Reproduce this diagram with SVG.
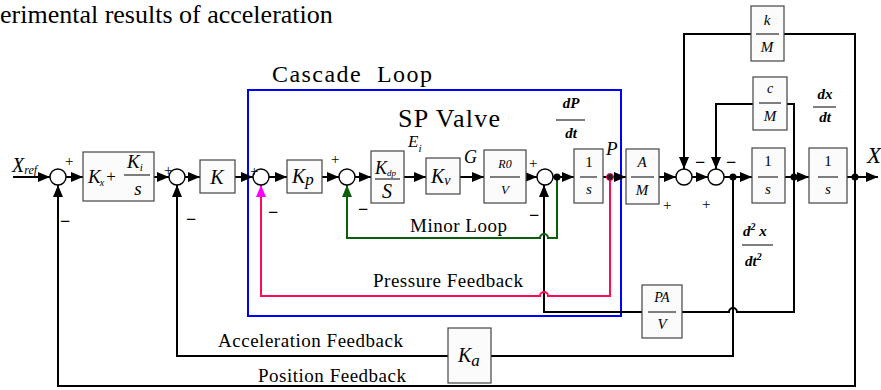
<svg xmlns="http://www.w3.org/2000/svg" width="881" height="390" viewBox="0 0 881 390" font-family="'Liberation Serif', 'DejaVu Serif', serif">
<defs>
<style>
.t{fill:#000}
.i{font-style:italic}
.bi{font-style:italic;font-weight:bold}
.box{fill:#fbfbfb;stroke:#444;stroke-width:1.2}
.sum{fill:#fff;stroke:#000;stroke-width:1.4}
.w{fill:none;stroke:#000;stroke-width:2}
.fl{stroke:#000;stroke-width:1}
.red{fill:none;stroke:#ff0a55;stroke-width:2}
.grn{fill:none;stroke:#0b5e0b;stroke-width:2}
.sg{font-size:18px;font-weight:bold;fill:#000}
.dot{fill:#000}
</style>
<marker id="ah" markerUnits="userSpaceOnUse" markerWidth="12" markerHeight="10" refX="12" refY="5" orient="auto"><path d="M0,0 L12,5 L0,10 z" fill="#000"/></marker>
<marker id="ahm" markerUnits="userSpaceOnUse" markerWidth="12" markerHeight="10" refX="12" refY="5" orient="auto"><path d="M0,0 L12,5 L0,10 z" fill="#ff00ff"/></marker>
<marker id="ahg" markerUnits="userSpaceOnUse" markerWidth="12" markerHeight="10" refX="12" refY="5" orient="auto"><path d="M0,0 L12,5 L0,10 z" fill="#0b5e0b"/></marker>
</defs>
<rect width="881" height="390" fill="#fff"/>

<text class="t" x="0" y="23" font-size="26" font-family="'Liberation Serif', serif">erimental results of acceleration</text>

<g id="cascade">
<rect x="248" y="90" width="373" height="226" fill="none" stroke="#0000ff" stroke-width="2"/>
<text class="t" x="272" y="82" font-size="24" textLength="160" lengthAdjust="spacing" xml:space="preserve">Cascade  Loop</text>
<text class="t" x="398" y="127" font-size="26" textLength="102" lengthAdjust="spacing">SP Valve</text>
</g>

<g id="connectors">
<path class="w" d="M13,177 H50" marker-end="url(#ah)"/>
<path class="w" d="M66,177 H83" marker-end="url(#ah)"/>
<path class="w" d="M154,177 H169" marker-end="url(#ah)"/>
<path class="w" d="M185,177 H200" marker-end="url(#ah)"/>
<path class="w" d="M235,177 H253" marker-end="url(#ah)"/>
<path class="w" d="M269,177 H287" marker-end="url(#ah)"/>
<path class="w" d="M322,177 H339" marker-end="url(#ah)"/>
<path class="w" d="M355,177 H371" marker-end="url(#ah)"/>
<path class="w" d="M404,177 H426" marker-end="url(#ah)"/>
<path class="w" d="M460,177 H484" marker-end="url(#ah)"/>
<path class="w" d="M526,177 H537" marker-end="url(#ah)"/>
<path class="w" d="M553,177 H574" marker-end="url(#ah)"/>
<path class="w" d="M603,177 H626" marker-end="url(#ah)"/>
<path class="w" d="M659,177 H676" marker-end="url(#ah)"/>
<path class="w" d="M692,177 H708" marker-end="url(#ah)"/>
<path class="w" d="M724,177 H752" marker-end="url(#ah)"/>
<path class="w" d="M785,177 H809" marker-end="url(#ah)"/>
<path class="w" d="M847,177 H878" marker-end="url(#ah)"/>
<path class="w" d="M855,177 V34 H784"/>
<path class="w" d="M751,34 H684 V169" marker-end="url(#ah)"/>
<path class="w" d="M794,177 V104 H787"/>
<path class="w" d="M753,104 H716 V169" marker-end="url(#ah)"/>
<path class="w" d="M794,177 V312 H737 a4,4 0 0 0 -8,0 H682"/>
<path class="w" d="M642,312 H544 V185" marker-end="url(#ah)"/>
<path class="w" d="M733,177 V356 H491"/>
<path class="w" d="M448,356 H177 V185" marker-end="url(#ah)"/>
<path class="w" d="M855,177 V386 H58 V185" marker-end="url(#ah)"/>
<path class="red" d="M610,177 V296 H548 a4,4 0 0 0 -8,0 H261 V185" marker-end="url(#ahm)"/>
<path class="grn" d="M557,177 V238 H548 a4,4 0 0 0 -8,0 H347 V185" marker-end="url(#ahg)"/>
<circle class="dot" cx="557" cy="177" r="3.5"/>
<circle cx="610" cy="177" r="3.5" fill="#222" stroke="#ff0a55" stroke-width="1"/>
<circle class="dot" cx="733" cy="177" r="3.5"/>
<circle class="dot" cx="794" cy="177" r="3.5"/>
<circle class="dot" cx="855" cy="177" r="3.5"/>
<text class="t" x="410" y="232" font-size="19" textLength="97" lengthAdjust="spacing">Minor Loop</text>
<text class="t" x="373" y="287" font-size="19" textLength="150" lengthAdjust="spacing">Pressure Feedback</text>
<text class="t" x="218" y="347" font-size="19" textLength="185" lengthAdjust="spacing">Acceleration Feedback</text>
<text class="t" x="258" y="382" font-size="19" textLength="148" lengthAdjust="spacing">Position Feedback</text>
</g>

<g id="labels">
<text class="t i" x="12" y="172" font-size="20">X<tspan font-size="12" dy="2">ref</tspan></text>
<text class="t i" x="408" y="147" font-size="17" fill="#444">E<tspan font-size="11" dy="5">i</tspan></text>
<text class="t i" x="464" y="163" font-size="18">G</text>
<text class="t i" x="606" y="155" font-size="19">P</text>
<text class="t i" x="867" y="163" font-size="23">X</text>
<g id="dPdt">
<text class="t bi" x="571" y="108" font-size="15" text-anchor="middle">dP</text>
<line class="fl" x1="556" y1="120" x2="585" y2="120" stroke-width="1.5"/>
<text class="t bi" x="571" y="138" font-size="15" text-anchor="middle">dt</text>
</g>
<g id="dxdt">
<text class="t bi" x="825" y="99" font-size="15" text-anchor="middle">dx</text>
<line class="fl" x1="813" y1="107" x2="836" y2="107" stroke-width="1.5"/>
<text class="t bi" x="825" y="122" font-size="15" text-anchor="middle">dt</text>
</g>
<g id="d2xdt2">
<text class="t bi" x="743" y="236" font-size="15">d<tspan font-size="10" dy="-6">2</tspan><tspan dy="6"> x</tspan></text>
<line class="fl" x1="742" y1="245" x2="773" y2="245" stroke-width="1.5"/>
<text class="t bi" x="745" y="266" font-size="15">dt<tspan font-size="10" dy="-6">2</tspan></text>
</g>
</g>

<g id="sum1"><circle class="sum" cx="58" cy="177" r="8"/>
<text class="t" x="65" y="166" font-size="15">+</text><text class="sg" x="60" y="227">−</text></g>
<g id="sum2"><circle class="sum" cx="177" cy="177" r="8"/>
<text class="t" x="164" y="175" font-size="15">+</text><text class="sg" x="186" y="225">−</text></g>
<g id="sum3"><circle class="sum" cx="261" cy="177" r="8"/>
<text class="t" x="250" y="176" font-size="15">+</text><text class="sg" x="268" y="218">−</text></g>
<g id="sum4"><circle class="sum" cx="347" cy="177" r="8"/>
<text class="t" x="331" y="164" font-size="15">+</text><text class="sg" x="358" y="215">−</text></g>
<g id="sum5"><circle class="sum" cx="545" cy="177" r="8"/>
<text class="t" x="529" y="168" font-size="15">+</text><text class="sg" x="529" y="221">−</text></g>
<g id="sum6"><circle class="sum" cx="684" cy="177" r="8"/>
<text class="t" x="663" y="210" font-size="15">+</text><text class="sg" x="695" y="168">−</text></g>
<g id="sum7"><circle class="sum" cx="716" cy="177" r="8"/>
<text class="t" x="702" y="209" font-size="15">+</text><text class="sg" x="726" y="168">−</text></g>

<g id="pi"><rect class="box" x="83" y="152" width="71" height="49"/>
<text class="t i" x="88" y="183" font-size="19">K<tspan font-size="10" dx="-1" dy="3">x</tspan></text>
<text class="t" x="111" y="182" font-size="17" text-anchor="middle">+</text>
<text class="t i" x="127" y="168" font-size="19">K<tspan font-size="11" dy="3">i</tspan></text>
<line class="fl" x1="124" y1="175" x2="150" y2="175"/>
<text class="t i" x="138" y="195" font-size="19" text-anchor="middle">s</text></g>

<g id="K"><rect class="box" x="200" y="160" width="35" height="33"/>
<text class="t i" x="217" y="184" font-size="20" text-anchor="middle">K</text></g>

<g id="Kp"><rect class="box" x="287" y="160" width="35" height="33"/>
<text class="t i" x="292" y="183" font-size="20">K<tspan font-size="17" dy="2">p</tspan></text></g>

<g id="Kdp"><rect class="box" x="371" y="151" width="33" height="52"/>
<text class="t i" x="375" y="174" font-size="18">K<tspan font-size="9" dy="2">dp</tspan></text>
<line class="fl" x1="375" y1="179" x2="400" y2="179"/>
<text class="t i" x="387" y="198" font-size="20" text-anchor="middle">S</text></g>

<g id="Kv"><rect class="box" x="426" y="158" width="34" height="36"/>
<text class="t i" x="431" y="183" font-size="20">K<tspan font-size="14" dy="2">v</tspan></text></g>

<g id="ROV"><rect class="box" x="484" y="150" width="42" height="53"/>
<text class="t i" x="505" y="168" font-size="12" text-anchor="middle">R0</text>
<line class="fl" x1="490" y1="177" x2="520" y2="177"/>
<text class="t i" x="505" y="194" font-size="13" text-anchor="middle">V</text></g>

<g id="int1"><rect class="box" x="574" y="149" width="29" height="54"/>
<text class="t" x="589" y="167" font-size="15" text-anchor="middle">1</text>
<line class="fl" x1="580" y1="177" x2="597" y2="177"/>
<text class="t i" x="589" y="194" font-size="15" text-anchor="middle">s</text></g>

<g id="AM"><rect class="box" x="626" y="149" width="33" height="55"/>
<text class="t i" x="642" y="167" font-size="15" text-anchor="middle">A</text>
<line class="fl" x1="631" y1="177" x2="654" y2="177"/>
<text class="t i" x="642" y="195" font-size="15" text-anchor="middle">M</text></g>

<g id="int2"><rect class="box" x="752" y="148" width="33" height="55"/>
<text class="t" x="768" y="166" font-size="15" text-anchor="middle">1</text>
<line class="fl" x1="758" y1="177" x2="778" y2="177"/>
<text class="t i" x="768" y="194" font-size="15" text-anchor="middle">s</text></g>

<g id="int3"><rect class="box" x="809" y="148" width="38" height="55"/>
<text class="t" x="828" y="166" font-size="15" text-anchor="middle">1</text>
<line class="fl" x1="818" y1="177" x2="838" y2="177"/>
<text class="t i" x="828" y="194" font-size="15" text-anchor="middle">s</text></g>

<g id="kM"><rect class="box" x="751" y="6" width="33" height="55"/>
<text class="t i" x="767" y="25" font-size="15" text-anchor="middle">k</text>
<line class="fl" x1="756" y1="34" x2="779" y2="34"/>
<text class="t i" x="767" y="52" font-size="15" text-anchor="middle">M</text></g>

<g id="cM"><rect class="box" x="753" y="77" width="34" height="53"/>
<text class="t i" x="770" y="93" font-size="14" text-anchor="middle">c</text>
<line class="fl" x1="759" y1="103" x2="781" y2="103"/>
<text class="t i" x="770" y="121" font-size="15" text-anchor="middle">M</text></g>

<g id="PAV"><rect class="box" x="642" y="285" width="40" height="53"/>
<text class="t i" x="662" y="302" font-size="14" text-anchor="middle">PA</text>
<line class="fl" x1="648" y1="312" x2="676" y2="312"/>
<text class="t i" x="662" y="329" font-size="15" text-anchor="middle">V</text></g>

<g id="Ka"><rect class="box" x="448" y="328" width="43" height="55"/>
<text class="t i" x="458" y="362" font-size="20">K<tspan font-size="17" dy="4">a</tspan></text></g>
</svg>
